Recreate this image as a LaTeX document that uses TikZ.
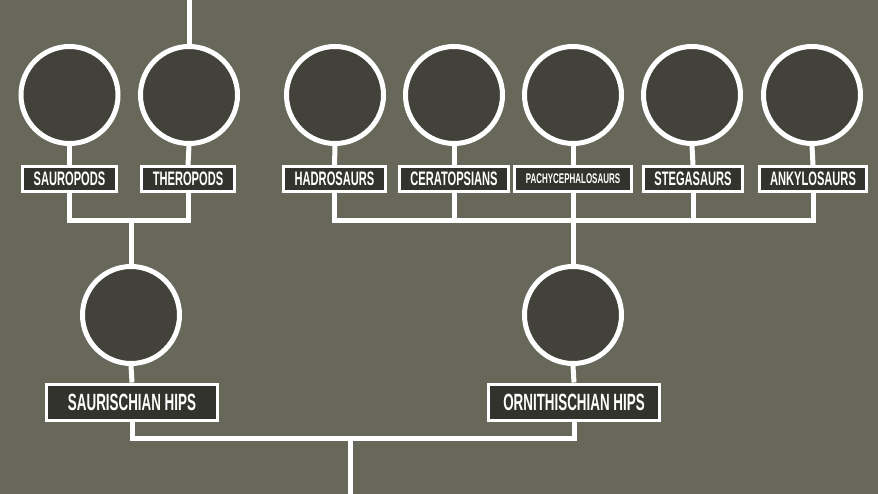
\documentclass[tikz,border=0pt]{standalone}
\usepackage{fontspec}
\newfontfamily\labfont{Liberation Sans}[FakeStretch=0.57, UprightFont=* Bold]
\definecolor{bgc}{HTML}{67675A}
\definecolor{circc}{HTML}{43423A}
\definecolor{labc}{HTML}{33332D}
\tikzset{
  clade/.style={circle, draw=white, line width=5pt, fill=circc, minimum size=97pt, inner sep=0pt},
  tag/.style={rectangle, draw=white, line width=3pt, fill=labc, text=white, minimum height=25pt, inner xsep=11pt, inner ysep=0pt, font=\labfont\fontsize{19.5}{19.5}\selectfont},
  smalltag/.style={tag, font=\labfont\fontsize{14}{14}\selectfont, inner xsep=9pt},
  bigtag/.style={tag, minimum width=171pt, minimum height=36pt, font=\labfont\fontsize{23.5}{23.5}\selectfont},
  link/.style={draw=white, line width=5pt}
}
\begin{document}
\begin{tikzpicture}[x=1pt,y=-1pt]
\fill[bgc] (0,0) rectangle (878,494);
\useasboundingbox (0,0) rectangle (878,494);
% top circles
\node[clade] (c1) at (69.5,95) {};
\node[clade] (c2) at (189,95) {};
\node[clade] (c3) at (335,95) {};
\node[clade] (c4) at (454,95) {};
\node[clade] (c5) at (573,95) {};
\node[clade] (c6) at (692,95) {};
\node[clade] (c7) at (812,95) {};
% top labels
\node[tag, minimum width=92pt] (l1) at (69.5,179) {SAUROPODS};
\node[tag, minimum width=93pt] (l2) at (188,179) {THEROPODS};
\node[tag, minimum width=100pt] (l3) at (334.5,179) {HADROSAURS};
\node[tag, minimum width=101pt] (l4) at (454,179) {CERATOPSIANS};
\node[smalltag, minimum width=117pt] (l5) at (573,179) {PACHYCEPHALOSAURS};
\node[tag, minimum width=99pt] (l6) at (693,179) {STEGASAURS};
\node[tag, minimum width=99pt] (l7) at (813,179) {ANKYLOSAURS};
% bottom circles and labels
\node[clade] (s) at (131,315) {};
\node[clade] (o) at (573,315) {};
\node[bigtag] (sl) at (132,402) {SAURISCHIAN HIPS};
\node[bigtag] (ol) at (574,402) {ORNITHISCHIAN HIPS};
% junction coordinates
\coordinate (top) at (189,0);
\coordinate (jL) at (131,221);
\coordinate (jR) at (573,221);
\coordinate (jB) at (350,438);
\coordinate (bot) at (350,494);
% connectors
\draw[link] (top) -- (c2.north);
\foreach \i in {1,...,7}{\draw[link] (c\i.south) -- (l\i.north);}
\draw[link] (l1.south) |- (jL) -| (l2.south);
\draw[link] (jL) -- (s.north);
\draw[link] (l3.south) |- (jR) -| (l7.south);
\draw[link] (l4.south) -- (l4.south |- jR);
\draw[link] (l5.south) -- (jR) -- (o.north);
\draw[link] (l6.south) -- (l6.south |- jR);
\draw[link] (s.south) -- (sl.north);
\draw[link] (o.south) -- (ol.north);
\draw[link] (sl.south) |- (jB) -| (ol.south);
\draw[link] (jB) -- (bot);
\end{tikzpicture}
\end{document}
